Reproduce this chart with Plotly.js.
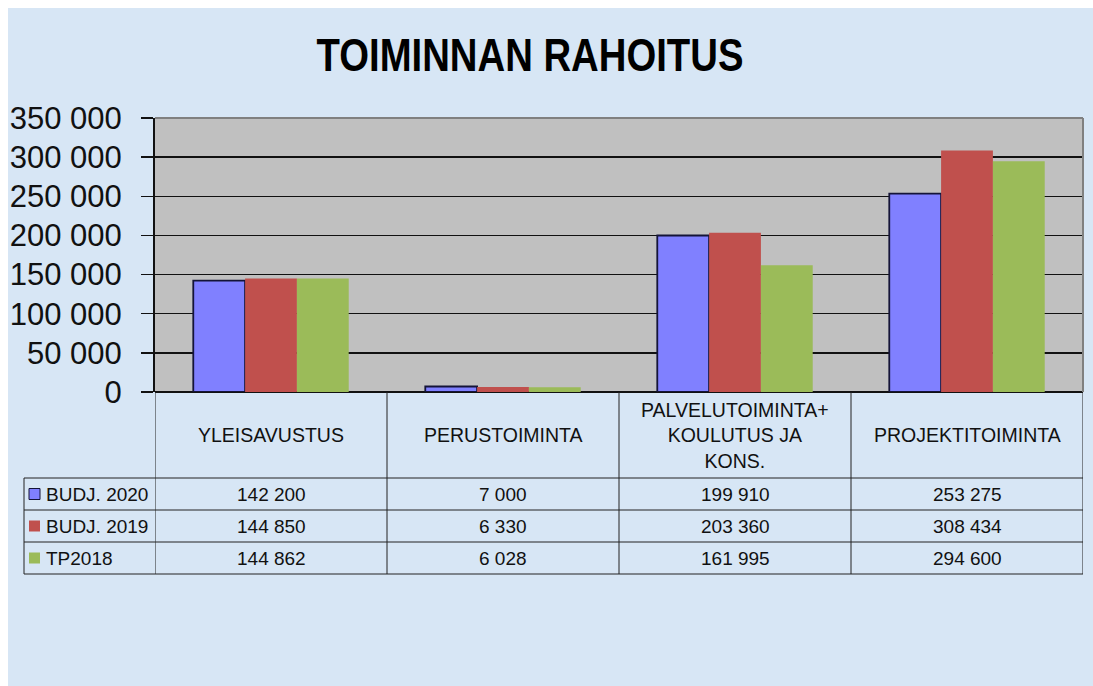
<!DOCTYPE html>
<html>
<head>
<meta charset="utf-8">
<script src="https://cdn.plot.ly/plotly-3.0.1.min.js"></script>
<style>html,body{margin:0;padding:0;background:#d7e6f5;overflow:hidden;}#chart{width:1093px;height:686px;}</style>
</head>
<body>
<div id="chart"></div>
<script>
// ---- data ----
const categories = ['YLEISAVUSTUS', 'PERUSTOIMINTA', 'PALVELUTOIMINTA+<br>KOULUTUS JA<br>KONS.', 'PROJEKTITOIMINTA'];
const seriesNames = ['BUDJ. 2020', 'BUDJ. 2019', 'TP2018'];
const budj2020 = [142200, 7000, 199910, 253275];
const budj2019 = [144850, 6330, 203360, 308434];
const tp2018 = [144862, 6028, 161995, 294600];
const yTickVals = [0, 50000, 100000, 150000, 200000, 250000, 300000, 350000];
const yTickText = ['0', '50 000', '100 000', '150 000', '200 000', '250 000', '300 000', '350 000'];
const titleText = 'TOIMINNAN RAHOITUS';

// ---- styling ----
const colors = ['#8080ff', '#c0504d', '#9bbb59'];
const W = 1093, H = 686;
const L = 155, R = 1083, T = 118, B = 392;
const pw = R - L, ph = B - T;
const px = p => (p - L) / pw;
const py = p => (B - p) / ph;
const fmt = v => String(v).replace(/\B(?=(\d{3})+(?!\d))/g, ' ');
const FONT = 'Liberation Sans, Arial, sans-serif';
const lineCol = '#222';
const titleCx = 530;

const allSeries = [budj2020, budj2019, tp2018];
const catIdx = categories.map((c, i) => i);

const traces = allSeries.map((vals, s) => ({
  type: 'bar',
  name: seriesNames[s],
  x: catIdx,
  y: vals,
  marker: { color: colors[s], line: { color: s === 0 ? '#141438' : colors[s], width: s === 0 ? 1.8 : 0 } },
  hoverinfo: 'x+y+name'
}));

const shapes = [];
const annotations = [];

// white border strips (top/left)
shapes.push({ type: 'rect', xref: 'paper', yref: 'paper', x0: px(0), x1: px(W), y0: py(0), y1: py(8), fillcolor: '#ffffff', line: { width: 0 }, layer: 'below' });
shapes.push({ type: 'rect', xref: 'paper', yref: 'paper', x0: px(0), x1: px(8), y0: py(0), y1: py(H), fillcolor: '#ffffff', line: { width: 0 }, layer: 'below' });

// plot frame top/right (grey)
shapes.push({ type: 'line', xref: 'paper', yref: 'paper', x0: 0, x1: 1, y0: 1, y1: 1, line: { color: '#808080', width: 2 } });
shapes.push({ type: 'line', xref: 'paper', yref: 'paper', x0: 1, x1: 1, y0: 0, y1: 1, line: { color: '#808080', width: 2 } });

// table
const rowLines = [478, 510, 542, 574];
const tblLeft = 24;
rowLines.forEach(yy => shapes.push({ type: 'line', xref: 'paper', yref: 'paper', x0: px(tblLeft), x1: 1, y0: py(yy), y1: py(yy), line: { color: lineCol, width: 1 } }));
shapes.push({ type: 'line', xref: 'paper', yref: 'paper', x0: px(tblLeft), x1: px(tblLeft), y0: py(478), y1: py(574), line: { color: lineCol, width: 1 } });
for (let k = 0; k <= categories.length; k++) {
  shapes.push({ type: 'line', xref: 'x', yref: 'paper', x0: k - 0.5, x1: k - 0.5, y0: 0, y1: py(574), line: { color: lineCol, width: 1 } });
}
// header labels
categories.forEach((c, i) => annotations.push({
  xref: 'x', yref: 'paper', x: i, y: py(435), text: c, showarrow: false,
  font: { family: FONT, size: 19.5, color: '#111' }, align: 'center', yanchor: 'middle'
}));
// rows
const rowCenters = [494, 526, 558];
allSeries.forEach((vals, s) => {
  annotations.push({
    xref: 'paper', yref: 'paper', x: px(44), y: py(rowCenters[s]), text: seriesNames[s], showarrow: false,
    xanchor: 'left', yanchor: 'middle', font: { family: FONT, size: 19, color: '#111' }
  });
  shapes.push({
    type: 'rect', xref: 'paper', yref: 'paper', x0: px(29), x1: px(40), y0: py(rowCenters[s] - 5.5), y1: py(rowCenters[s] + 5.5),
    fillcolor: colors[s], line: { color: s === 0 ? '#141438' : colors[s], width: s === 0 ? 1 : 0 }
  });
  vals.forEach((v, i) => annotations.push({
    xref: 'x', yref: 'paper', x: i, y: py(rowCenters[s]), text: fmt(v), showarrow: false,
    yanchor: 'middle', font: { family: FONT, size: 19, color: '#111' }
  }));
});

const layout = {
  width: W, height: H,
  margin: { l: L, r: W - R, t: T, b: H - B, pad: 0 },
  paper_bgcolor: '#d7e6f5',
  plot_bgcolor: '#c0c0c0',
  showlegend: false,
  bargap: 0.33, bargroupgap: 0, barmode: 'group',
  title: {
    text: '<b>' + titleText + '</b>',
    font: { family: FONT, size: 47, color: '#000' },
    x: titleCx / W, xanchor: 'center', y: 1 - 55 / H, yanchor: 'middle'
  },
  xaxis: {
    range: [-0.5, categories.length - 0.5], showticklabels: false, showgrid: false, zeroline: false,
    showline: false, ticks: '', fixedrange: true
  },
  yaxis: {
    range: [0, 350000], tickvals: yTickVals, ticktext: yTickText,
    tickfont: { family: FONT, size: 31, color: '#111' },
    ticks: 'outside', ticklen: 12, tickwidth: 1.5, tickcolor: '#111',
    ticklabelstandoff: 13,
    showgrid: true, gridcolor: '#111', gridwidth: 1.5,
    zeroline: true, zerolinecolor: '#111', zerolinewidth: 2,
    showline: true, linecolor: '#111', linewidth: 2, fixedrange: true
  },
  shapes: shapes,
  annotations: annotations
};

Plotly.newPlot('chart', traces, layout, { displayModeBar: false, staticPlot: true }).then(gd => {
  // condensed look of the original title font
  const t = gd.querySelector('.g-gtitle text');
  if (t) t.setAttribute('transform', `translate(${titleCx},0) scale(0.815,1) translate(${-titleCx},0)`);
});
</script>
</body>
</html>
